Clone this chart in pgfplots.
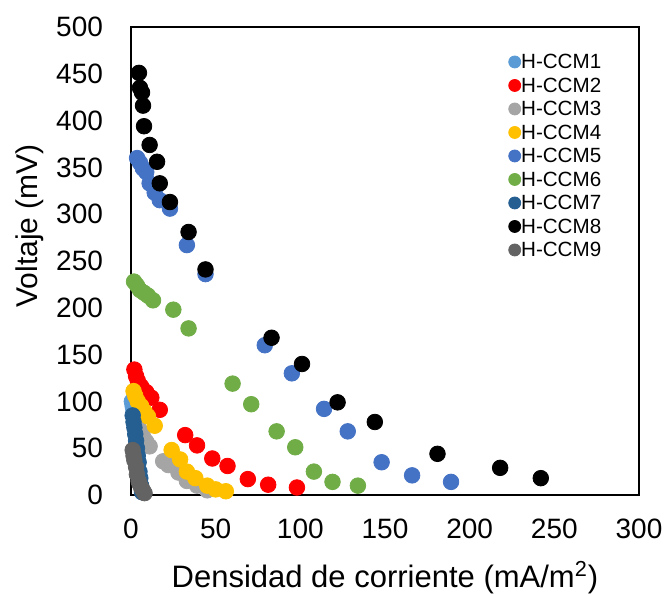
\documentclass[border=0pt]{standalone}
\usepackage{pgfplots}
\pgfplotsset{compat=1.18}
\usepackage{fontspec}
\setmainfont{Liberation Sans}
\definecolor{c1}{HTML}{5B9BD5}
\definecolor{c2}{HTML}{FF0000}
\definecolor{c3}{HTML}{A5A5A5}
\definecolor{c4}{HTML}{FFC000}
\definecolor{c5}{HTML}{4472C4}
\definecolor{c6}{HTML}{70AD47}
\definecolor{c7}{HTML}{255E91}
\definecolor{c8}{HTML}{000000}
\definecolor{c9}{HTML}{636363}
\begin{document}
\begin{tikzpicture}
\begin{axis}[
  scale only axis,
  width=254pt, height=234pt,
  xmin=0, xmax=300, ymin=0, ymax=500,
  xtick={0,50,...,300}, ytick={0,50,...,500},
  major tick length=0pt,
  axis line style={black, line width=1pt},
  tick label style={font=\fontsize{14}{16}\selectfont},
  xticklabel style={yshift=-8.5pt},
  yticklabel style={xshift=-10.5pt},
  /pgf/number format/assume math mode=true,
  xlabel={Densidad de corriente (mA/m\textsuperscript{2})},
  ylabel={Voltaje (mV)},
  xlabel style={font=\fontsize{15.5}{18}\selectfont, at={(axis description cs:0.5,-0.177)}, anchor=center},
  ylabel style={font=\fontsize{15}{18}\selectfont, at={(axis description cs:-0.199,0.575)}, anchor=center},
  legend style={draw=none, fill=none, font=\fontsize{10.3}{11.75}\selectfont,
    at={(0.742,0.947)}, anchor=north west, row sep=0pt,
    inner xsep=0pt, inner ysep=0pt,
    nodes={inner sep=0pt, text height=8.2pt, text depth=3.55pt}},
  legend cell align=left,
  legend image code/.code={\fill[#1] (1.5pt,1pt) circle (3pt);},
  every axis plot/.append style={only marks, mark=*, mark size=3.9pt},
]
\addplot[c1, mark options={fill=c1, draw=c1}] coordinates {(0.5,100)(1,95)(1.5,90)(2,84)(2.5,78)(3,72)(3.5,66)};
\addlegendentry{H-CCM1}
\addplot[c2, mark options={fill=c2, draw=c2}] coordinates {(2,134)(3,127)(4,122)(6,116)(9,110)(12,104)(17,91)(32,64)(39,53)(48,39)(57,31)(69,17)(81,11)(98,8)};
\addlegendentry{H-CCM2}
\addplot[c3, mark options={fill=c3, draw=c3}] coordinates {(5,70)(7,63)(9,57)(11,52)(19,36)(22,32)(28,24)(33,15)(39,10)(45,5)};
\addlegendentry{H-CCM3}
\addplot[c4, mark options={fill=c4, draw=c4}] coordinates {(1.5,111)(2.5,106)(4,100)(6,95)(8,89)(10,84)(14,74)(24,48)(29,38)(33,25)(38,18)(45,10)(50,6)(56,4)};
\addlegendentry{H-CCM4}
\addplot[c5, mark options={fill=c5, draw=c5}] coordinates {(3.6,360)(5.3,355)(7,349)(9,345)(11,333)(14,323)(17,315)(23,306)(33,267)(44,236)(79,160)(95,130)(114,92)(128,68)(148,35)(166,21)(189,14)};
\addlegendentry{H-CCM5}
\addplot[c6, mark options={fill=c6, draw=c6}] coordinates {(1.8,228)(3.5,224)(5.3,219)(7.7,216)(10,213)(13,208)(25,198)(34,178)(60,119)(71,97)(86,68)(97,51)(108,25)(119,14)(134,10)};
\addlegendentry{H-CCM6}
\addplot[c7, mark options={fill=c7, draw=c7}] coordinates {(1,85)(1.5,78)(2,72)(2.5,65)(3,58)(3.5,50)(4,42)(4.5,35)(5,25)(5.5,18)(6,10)(6.5,3)};
\addlegendentry{H-CCM7}
\addplot[c8, mark options={fill=c8, draw=c8}] coordinates {(4.7,451)(5.3,435)(6.5,430)(7.1,416)(7.7,394)(11,374)(15.4,356)(17,333)(23,313)(34,281)(44,241)(83,168)(101,140)(122,99)(144,78)(181,44)(218,29)(242,18)};
\addlegendentry{H-CCM8}
\addplot[c9, mark options={fill=c9, draw=c9}] coordinates {(1,48)(1.5,42)(2,37)(3,30)(3.5,22)(4.5,15)(5,12)(6,8)(7,5)(8,2)};
\addlegendentry{H-CCM9}
\end{axis}
\pgfresetboundingbox
\path (-65.5pt,-49.5pt) rectangle (267pt,247.5pt);
\end{tikzpicture}
\end{document}
